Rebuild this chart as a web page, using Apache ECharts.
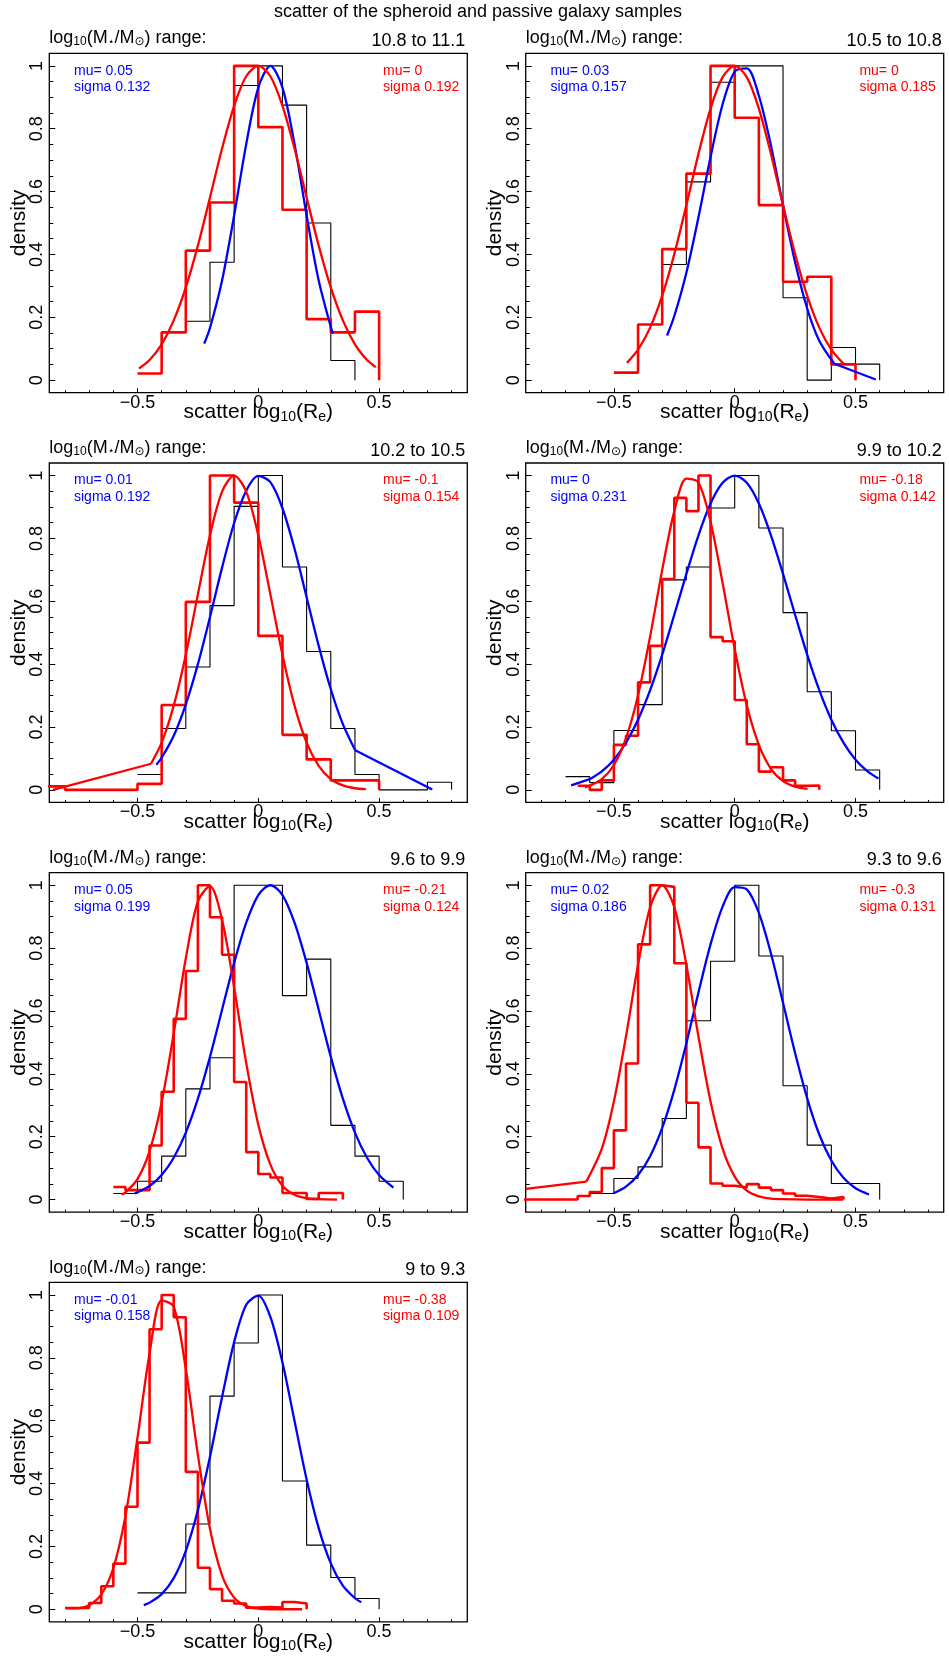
<!DOCTYPE html>
<html>
<head>
<meta charset="utf-8">
<script src="https://cdn.jsdelivr.net/npm/echarts@6/dist/echarts.min.js"></script>
<style>
  html, body { margin: 0; padding: 0; background: #fff; }
  #chart { width: 949px; height: 1656px; }
</style>
</head>
<body>
<div id="chart"></div>
<script>
// one panel per stellar mass bin
const massRanges = ['10.8 to 11.1', '10.5 to 10.8', '10.2 to 10.5', '9.9 to 10.2', '9.6 to 9.9', '9.3 to 9.6', '9 to 9.3'];
const blueMu = ['0.05', '0.03', '0.01', '0', '0.05', '0.02', '-0.01'];
const blueSigma = ['0.132', '0.157', '0.192', '0.231', '0.199', '0.186', '0.158'];
const redMu = ['0', '0', '-0.1', '-0.18', '-0.21', '-0.3', '-0.38'];
const redSigma = ['0.192', '0.185', '0.154', '0.142', '0.124', '0.131', '0.109'];

// black histograms (spheroids): first bin edge, bins of 0.1
const blackStart = [-0.3, -0.3, -0.5, -0.7, -0.6, -0.6, -0.5];
const blackDens = [
  [0.1875, 0.375, 0.9375, 1, 0.875, 0.5, 0.0625],
  [0.368, 0.631, 0.948, 1, 1, 0.262, 0, 0.104, 0.051],
  [0.049, 0.195, 0.391, 0.586, 0.902, 1, 0.709, 0.44, 0.195, 0.049, 0, 0, 0.024],
  [0.042, 0.023, 0.189, 0.271, 0.668, 0.709, 0.897, 1, 0.833, 0.564, 0.312, 0.188, 0.063],
  [0.019, 0.058, 0.138, 0.352, 0.451, 1, 1, 0.649, 0.765, 0.236, 0.138, 0.058],
  [0.019, 0.067, 0.104, 0.258, 0.569, 0.758, 1, 0.775, 0.362, 0.173, 0.051, 0.051],
  [0.052, 0.052, 0.271, 0.678, 0.847, 1, 0.408, 0.204, 0.101, 0.034]
];

// red histograms (passive galaxies)
const redStart = [-0.5, -0.5, -0.9, -0.65, -0.6, -0.9, -0.8];
const redWidth = [0.1, 0.1, 0.1, 0.05, 0.05, 0.05, 0.05];
const redDens = [
  [0.021, 0.152, 0.412, 0.565, 1, 0.805, 0.542, 0.194, 0.152, 0.218],
  [0.024, 0.177, 0.417, 0.657, 1, 0.835, 0.557, 0.313, 0.329, 0.05],
  [0.011, 0, 0, 0, 0.019, 0.27, 0.598, 1, 0.914, 0.49, 0.175, 0.097, 0.03, 0.03],
  [0.013, 0, 0.03, 0.143, 0.172, 0.342, 0.458, 0.671, 0.929, 0.887, 1, 0.486, 0.473, 0.286, 0.145, 0.058, 0.072, 0.03, 0.013, 0.014],
  [0.04, 0.03, 0.03, 0.172, 0.343, 0.575, 0.727, 1, 0.898, 0.779, 0.374, 0.151, 0.081, 0.07, 0.021, 0.021, 0.002, 0.021, 0.021],
  [0, 0, 0, 0, 0, 0.011, 0.024, 0.1, 0.22, 0.433, 0.812, 1, 0.995, 0.752, 0.308, 0.166, 0.051, 0.044, 0.038, 0.049, 0.038, 0.03, 0.019, 0.012, 0.008, 0.003, 0.008],
  [0.004, 0.004, 0.02, 0.073, 0.145, 0.326, 0.53, 0.891, 1, 0.929, 0.437, 0.132, 0.064, 0.027, 0.018, 0.005, 0.007, 0.005, 0.023, 0.018]
];

// fitted curves, points
const blueCurve = [
  [[-0.224, 0.116], [-0.2, 0.166], [-0.15, 0.317], [-0.1, 0.524], [-0.05, 0.751], [0, 0.931], [0.05, 1], [0.1, 0.931], [0.15, 0.751], [0.2, 0.524], [0.25, 0.317], [0.308, 0.148]],
  [[-0.28, 0.142], [-0.25, 0.204], [-0.2, 0.342], [-0.15, 0.518], [-0.1, 0.71], [-0.05, 0.878], [0, 0.982], [0.05, 0.992], [0.1, 0.905], [0.15, 0.747], [0.2, 0.556], [0.25, 0.375], [0.3, 0.228], [0.35, 0.125], [0.412, 0.052]],
  [[-0.422, 0.08], [-0.4, 0.102], [-0.35, 0.172], [-0.3, 0.272], [-0.25, 0.4], [-0.2, 0.55], [-0.15, 0.707], [-0.1, 0.849], [-0.05, 0.952], [0, 0.999], [0.05, 0.979], [0.1, 0.896], [0.15, 0.767], [0.2, 0.613], [0.25, 0.458], [0.3, 0.32], [0.35, 0.209], [0.401, 0.126]],
  [[-0.6, 0.034], [-0.55, 0.059], [-0.5, 0.096], [-0.45, 0.15], [-0.4, 0.223], [-0.35, 0.317], [-0.3, 0.43], [-0.25, 0.557], [-0.2, 0.687], [-0.15, 0.81], [-0.1, 0.911], [-0.05, 0.977], [0, 1], [0.05, 0.977], [0.1, 0.911], [0.15, 0.81], [0.2, 0.687], [0.25, 0.557], [0.3, 0.43], [0.35, 0.317], [0.4, 0.223], [0.45, 0.15], [0.5, 0.096], [0.55, 0.059], [0.595, 0.036]],
  [[-0.512, 0.019], [-0.45, 0.043], [-0.4, 0.078], [-0.35, 0.133], [-0.3, 0.213], [-0.25, 0.321], [-0.2, 0.454], [-0.15, 0.604], [-0.1, 0.753], [-0.05, 0.881], [0, 0.969], [0.05, 1], [0.1, 0.969], [0.15, 0.881], [0.2, 0.753], [0.25, 0.604], [0.3, 0.454], [0.35, 0.321], [0.4, 0.213], [0.45, 0.133], [0.5, 0.078], [0.559, 0.038]],
  [[-0.501, 0.02], [-0.45, 0.041], [-0.4, 0.078], [-0.35, 0.138], [-0.3, 0.228], [-0.25, 0.349], [-0.2, 0.497], [-0.15, 0.659], [-0.1, 0.812], [-0.05, 0.932], [0, 0.994], [0.05, 0.987], [0.1, 0.912], [0.15, 0.783], [0.2, 0.626], [0.25, 0.466], [0.3, 0.322], [0.35, 0.207], [0.4, 0.124], [0.45, 0.069], [0.5, 0.036], [0.556, 0.016]],
  [[-0.474, 0.013], [-0.45, 0.021], [-0.4, 0.048], [-0.35, 0.099], [-0.3, 0.186], [-0.25, 0.316], [-0.2, 0.485], [-0.15, 0.675], [-0.1, 0.85], [-0.05, 0.969], [0, 0.998], [0.05, 0.93], [0.1, 0.785], [0.15, 0.599], [0.2, 0.413], [0.25, 0.258], [0.3, 0.146], [0.35, 0.075], [0.4, 0.035], [0.426, 0.022]]
];
const redCurve = [
  [[-0.494, 0.037], [-0.45, 0.064], [-0.4, 0.114], [-0.35, 0.19], [-0.3, 0.295], [-0.25, 0.428], [-0.2, 0.581], [-0.15, 0.737], [-0.1, 0.873], [-0.05, 0.967], [0, 1], [0.05, 0.967], [0.1, 0.873], [0.15, 0.737], [0.2, 0.581], [0.25, 0.428], [0.3, 0.295], [0.35, 0.19], [0.4, 0.114], [0.45, 0.064], [0.486, 0.041]],
  [[-0.446, 0.055], [-0.4, 0.097], [-0.35, 0.167], [-0.3, 0.269], [-0.25, 0.401], [-0.2, 0.557], [-0.15, 0.72], [-0.1, 0.864], [-0.05, 0.964], [0, 1], [0.05, 0.964], [0.1, 0.864], [0.15, 0.72], [0.2, 0.557], [0.25, 0.401], [0.3, 0.269], [0.35, 0.167], [0.4, 0.097], [0.453, 0.05]],
  [[-0.444, 0.083], [-0.4, 0.15], [-0.35, 0.268], [-0.3, 0.43], [-0.25, 0.622], [-0.2, 0.81], [-0.15, 0.949], [-0.1, 1], [-0.05, 0.949], [0, 0.81], [0.05, 0.622], [0.1, 0.43], [0.15, 0.268], [0.2, 0.15], [0.25, 0.076], [0.3, 0.034], [0.35, 0.014], [0.4, 0.005], [0.445, 0.002]],
  [[-0.62, 0.008], [-0.6, 0.013], [-0.55, 0.034], [-0.5, 0.079], [-0.45, 0.164], [-0.4, 0.301], [-0.35, 0.488], [-0.3, 0.7], [-0.25, 0.886], [-0.2, 0.99], [-0.15, 0.978], [-0.1, 0.853], [-0.05, 0.658], [0, 0.448], [0.05, 0.269], [0.1, 0.143], [0.15, 0.067], [0.2, 0.028], [0.25, 0.01], [0.302, 0.003]],
  [[-0.567, 0.016], [-0.55, 0.023], [-0.5, 0.065], [-0.45, 0.154], [-0.4, 0.309], [-0.35, 0.529], [-0.3, 0.768], [-0.25, 0.949], [-0.2, 0.997], [-0.15, 0.89], [-0.1, 0.675], [-0.05, 0.435], [0, 0.238], [0.05, 0.111], [0.1, 0.044], [0.15, 0.015], [0.2, 0.004], [0.25, 0.001], [0.326, 0]],
  [[-0.614, 0.057], [-0.55, 0.162], [-0.5, 0.312], [-0.45, 0.519], [-0.4, 0.747], [-0.35, 0.93], [-0.3, 1], [-0.25, 0.93], [-0.2, 0.747], [-0.15, 0.519], [-0.1, 0.312], [-0.05, 0.162], [0, 0.073], [0.05, 0.028], [0.1, 0.01], [0.15, 0.003], [0.2, 0.001], [0.3, 0], [0.449, 0]],
  [[-0.794, 0.003], [-0.75, 0.003], [-0.7, 0.013], [-0.65, 0.047], [-0.6, 0.131], [-0.55, 0.296], [-0.5, 0.546], [-0.45, 0.814], [-0.4, 0.983], [-0.35, 0.963], [-0.3, 0.764], [-0.25, 0.491], [-0.2, 0.256], [-0.15, 0.108], [-0.1, 0.037], [-0.05, 0.01], [0, 0.002], [0.05, 0], [0.181, 0]]
];
// straight stretches of the fitted curves where the samples are sparse
const blueTail = [null, [[0.412, 0.052], [0.584, 0.002]], [[0.401, 0.126], [0.72, 0.001]], [[-0.677, 0.014], [-0.6, 0.034]], null, null, null];
const redTail = [null, null, [[-0.85, 0], [-0.444, 0.083]], null, null, [[-0.865, 0.034], [-0.614, 0.057]], null];

// tick positions
const xMajor = [-0.5, 0, 0.5];
const xMinor = [-0.8, -0.7, -0.6, -0.5, -0.4, -0.3, -0.2, -0.1, 0, 0.1, 0.2, 0.3, 0.4, 0.5, 0.6, 0.7, 0.8];
const yMajor = [0, 0.2, 0.4, 0.6, 0.8, 1];
const yMinor = [0, 0.05, 0.1, 0.15, 0.2, 0.25, 0.3, 0.35, 0.4, 0.45, 0.5, 0.55, 0.6, 0.65, 0.7, 0.75, 0.8, 0.85, 0.9, 0.95, 1];

const FONT = "'Liberation Sans', 'DejaVu Sans', Arial, sans-serif";
const colLeft = [49.3, 525.7];
const rowTop = [53.3, 463, 872.7, 1282.4];
const panelW = 418, panelH = 339.4;
const XMIN = -0.865, XMAX = 0.865, YMIN = -0.04, YMAX = 1.04;

function histPoints(start, width, dens) {
  const pts = dens.map((d, k) => [+(start + k * width).toFixed(3), d]);
  pts.push([+(start + dens.length * width).toFixed(3), 0]);
  return pts;
}
function minus(v) {
  return v < 0 ? '\u2212' + Math.abs(v) : String(v);
}

const grids = [], xAxes = [], yAxes = [], series = [];
const titles = [{
  text: 'scatter of the spheroid and passive galaxy samples',
  left: 478, top: 12.3, textAlign: 'center', textVerticalAlign: 'middle', padding: 0,
  textStyle: { fontSize: 18, fontWeight: 'normal', color: '#000', fontFamily: FONT }
}];

massRanges.forEach((range, i) => {
  const L = colLeft[i % 2], T = rowTop[Math.floor(i / 2)];
  grids.push({
    left: L, top: T, width: panelW, height: panelH,
    show: true, borderColor: '#000', borderWidth: 1.3, backgroundColor: 'transparent',
    containLabel: false, outerBoundsMode: 'none'
  });

  // main x axis: minor ticks + labels
  xAxes.push({
    gridIndex: i, type: 'value', min: XMIN, max: XMAX, position: 'bottom',
    axisLine: { show: false, onZero: false },
    splitLine: { show: false },
    axisTick: { inside: true, length: 2.5, customValues: xMinor, lineStyle: { color: '#000', width: 1 } },
    axisLabel: { customValues: xMajor, fontSize: 18, color: '#000', margin: 1, fontFamily: FONT, formatter: minus },
    name: 'scatter log{s|10}(R{s|e})', nameLocation: 'middle', nameGap: 9, nameMoveOverlap: false,
    nameTextStyle: {
      fontSize: 21, color: '#000', fontFamily: FONT,
      rich: { s: { fontSize: 14, padding: [8, 0, 0, 0], color: '#000', fontFamily: FONT } }
    }
  });
  // second x axis only for the longer major ticks
  xAxes.push({
    gridIndex: i, type: 'value', min: XMIN, max: XMAX, position: 'bottom',
    axisLine: { show: false, onZero: false },
    splitLine: { show: false },
    axisTick: { inside: true, length: 4.5, customValues: xMajor, lineStyle: { color: '#000', width: 1 } },
    axisLabel: { show: false }
  });

  yAxes.push({
    gridIndex: i, type: 'value', min: YMIN, max: YMAX, position: 'left',
    axisLine: { show: false, onZero: false },
    splitLine: { show: false },
    axisTick: { inside: true, length: 4, customValues: yMinor, lineStyle: { color: '#000', width: 1 } },
    axisLabel: { customValues: yMajor, rotate: 90, fontSize: 18, color: '#000', margin: 3, fontFamily: FONT, formatter: v => String(v) },
    name: 'density', nameLocation: 'middle', nameGap: 20, nameMoveOverlap: false,
    nameTextStyle: { fontSize: 21, color: '#000', fontFamily: FONT }
  });
  yAxes.push({
    gridIndex: i, type: 'value', min: YMIN, max: YMAX, position: 'left',
    axisLine: { show: false, onZero: false },
    splitLine: { show: false },
    axisTick: { inside: true, length: 6, customValues: yMajor, lineStyle: { color: '#000', width: 1 } },
    axisLabel: { show: false }
  });

  const base = { type: 'line', xAxisIndex: 2 * i, yAxisIndex: 2 * i, showSymbol: false, symbol: 'none', silent: true, clip: true };
  const blueLine = { lineStyle: { color: '#0000ff', width: 2.3 }, itemStyle: { color: '#0000ff' } };
  const redLine = { lineStyle: { color: '#ff0000', width: 2.3 }, itemStyle: { color: '#ff0000' } };
  series.push(Object.assign({}, base, {
    data: histPoints(blackStart[i], 0.1, blackDens[i]), step: 'end', z: 2,
    lineStyle: { color: '#000', width: 1.1 }, itemStyle: { color: '#000' }
  }));
  series.push(Object.assign({}, base, {
    data: histPoints(redStart[i], redWidth[i], redDens[i]), step: 'end', z: 3,
    lineStyle: { color: '#ff0000', width: 2.6 }, itemStyle: { color: '#ff0000' }
  }));
  series.push(Object.assign({}, base, blueLine, { data: blueCurve[i], smooth: 0.3, z: 4 }));
  if (blueTail[i]) series.push(Object.assign({}, base, blueLine, { data: blueTail[i], z: 4 }));
  series.push(Object.assign({}, base, redLine, { data: redCurve[i], smooth: 0.3, z: 5 }));
  if (redTail[i]) series.push(Object.assign({}, base, redLine, { data: redTail[i], z: 5 }));

  // panel headings
  titles.push({
    text: '{n|log}{s|10}{n|(M}{st|\u22c6}{n|/M}{s|\u2299}{n|) range:}',
    left: L, top: T - 14.8, textAlign: 'left', textVerticalAlign: 'middle', padding: 0,
    textStyle: {
      fontSize: 18, fontWeight: 'normal', color: '#000', fontFamily: FONT,
      rich: {
        n: { fontSize: 18, color: '#000', fontFamily: FONT },
        s: { fontSize: 12, padding: [7, 0, 0, 0], color: '#000', fontFamily: FONT },
        st: { fontSize: 11, padding: [6, 0, 0, 0], color: '#000', fontFamily: FONT }
      }
    }
  });
  titles.push({
    text: range, left: L + 416, top: T - 12.3, textAlign: 'right', textVerticalAlign: 'middle', padding: 0,
    textStyle: { fontSize: 18, fontWeight: 'normal', color: '#000', fontFamily: FONT }
  });
  titles.push({
    text: 'mu= ' + blueMu[i] + '\nsigma ' + blueSigma[i],
    left: L + 24.7, top: T + 25.7, textAlign: 'left', textVerticalAlign: 'middle', padding: 0,
    textStyle: { fontSize: 14, lineHeight: 16.7, fontWeight: 'normal', color: '#0000ff', fontFamily: FONT }
  });
  titles.push({
    text: 'mu= ' + redMu[i] + '\nsigma ' + redSigma[i],
    left: L + 333.7, top: T + 25.7, textAlign: 'left', textVerticalAlign: 'middle', padding: 0,
    textStyle: { fontSize: 14, lineHeight: 16.7, fontWeight: 'normal', color: '#ff0000', fontFamily: FONT }
  });
});

const chart = echarts.init(document.getElementById('chart'), null, { renderer: 'canvas' });
chart.setOption({
  animation: false,
  backgroundColor: '#ffffff',
  textStyle: { fontFamily: FONT },
  title: titles,
  grid: grids,
  xAxis: xAxes,
  yAxis: yAxes,
  series: series
});
</script>
</body>
</html>
